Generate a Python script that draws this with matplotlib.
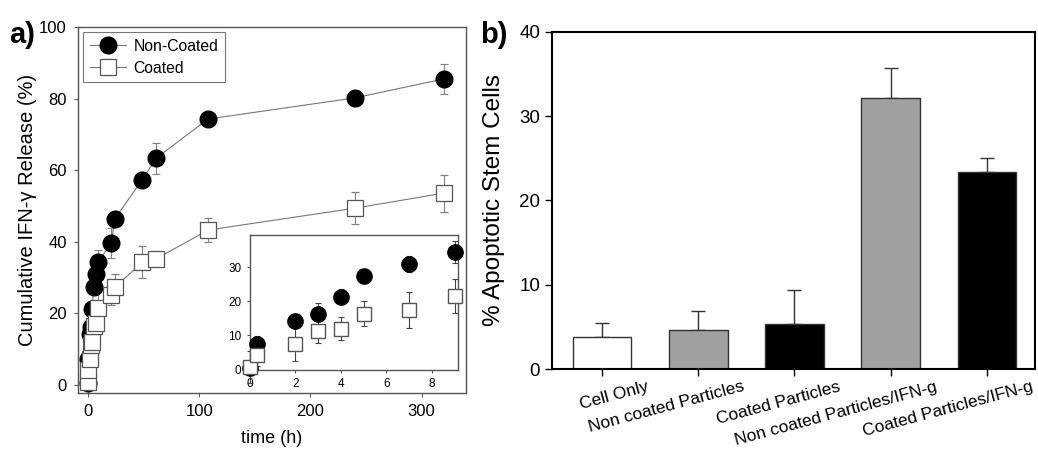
import matplotlib
matplotlib.use('Agg')
import matplotlib.pyplot as plt
from matplotlib.transforms import ScaledTranslation, blended_transform_factory

plt.rcParams['font.family'] = ['Liberation Sans', 'DejaVu Sans']

# パネルa: 放出データ (時間, %)
t_nc = [0, 0.3, 2, 3, 4, 5, 7, 9, 21, 24, 49, 61, 108, 240, 320]
y_nc = [0.5, 7.3, 14.2, 16.2, 21.3, 27.4, 31.0, 34.4, 39.6, 46.4, 57.4, 63.3, 74.3, 80.2, 85.5]
e_nc = [1.0, 2.4, 2.0, 3.4, 2.2, 0.6, 2.3, 3.2, 4.2, 1.8, 2.0, 4.3, 0.8, 2.2, 4.3]

t_c = [0, 0.3, 2, 3, 4, 5, 7, 9, 21, 24, 49, 61, 108, 240, 320]
y_c = [0.8, 4.1, 7.3, 11.2, 12.0, 16.4, 17.4, 21.5, 25.1, 27.3, 34.3, 35.2, 43.3, 49.4, 53.6]
e_c = [4.7, 3.0, 5.0, 3.4, 3.3, 3.6, 5.3, 5.0, 2.8, 3.8, 4.5, 1.5, 3.3, 4.5, 5.2]

# パネルb: アポトーシス細胞
groups = ['Cell Only', 'Non coated Particles', 'Coated Particles',
          'Non coated Particles/IFN-g', 'Coated Particles/IFN-g']
apop = [3.8, 4.6, 5.3, 32.2, 23.4]
apop_err = [1.7, 2.3, 4.1, 3.5, 1.7]
bar_colors = ['white', '#a0a0a0', 'black', '#a0a0a0', 'black']

fig = plt.figure(figsize=(10.38, 4.5), dpi=100)

# --- a) ---
ax = fig.add_axes([0.0751, 0.1267, 0.3739, 0.8133])
line_kw = dict(color='#777777', lw=0.8, ecolor='#808080', elinewidth=0.8, capsize=3, capthick=0.8)
ax.errorbar(t_nc, y_nc, yerr=e_nc, marker='o', ms=12, mfc='black', mec='black',
            label='Non-Coated', zorder=3, **line_kw)
ax.errorbar(t_c, y_c, yerr=e_c, marker='s', ms=11, mfc='white', mec='#555555', mew=0.9,
            label='Coated', zorder=3, **line_kw)
ax.set_xlim(-9, 340)
ax.set_ylim(-2.2, 100)
ax.set_xticks([0, 100, 200, 300])
ax.set_yticks([0, 20, 40, 60, 80, 100])
ax.tick_params(direction='out', length=3, width=0.8, color='#555555', labelsize=12, pad=5)
for s in ax.spines.values():
    s.set_color('#555555')
    s.set_linewidth(1.0)
ax.set_xlabel('time (h)', fontsize=13, labelpad=8)
ax.set_ylabel('Cumulative IFN-γ Release (%)', fontsize=14.5)
ax.yaxis.set_label_coords(-0.105, 0.5)
leg = ax.legend(loc='upper left', fontsize=11.3, frameon=True, fancybox=False,
                edgecolor='#555555', borderaxespad=0.35, handlelength=2.3,
                borderpad=0.4, labelspacing=0.45, handletextpad=0.5)
leg.get_frame().set_linewidth(0.8)

# インセット
axi = fig.add_axes([0.2408, 0.1778, 0.2004, 0.30])
ins_kw = dict(ls='none', ecolor='#444444', elinewidth=0.8, capsize=2.5, capthick=0.8, zorder=3)
c1 = axi.errorbar(t_nc[:8], y_nc[:8], yerr=e_nc[:8], marker='o', ms=11, mfc='black',
                  mec='black', **ins_kw)
c2 = axi.errorbar(t_c[:8], y_c[:8], yerr=e_c[:8], marker='s', ms=10, mfc='white',
                  mec='#555555', **ins_kw)
for cont in (c1, c2):
    for art in cont.get_children():
        art.set_clip_on(False)
axi.set_xlim(0, 9.15)
axi.set_ylim(-0.2, 39.5)
axi.set_xticks([0, 2, 4, 6, 8])
axi.set_yticks([0, 10, 20, 30])
axi.tick_params(direction='out', length=2.5, width=0.8, color='#555555', labelsize=8.5)
for s in axi.spines.values():
    s.set_color('#555555')
    s.set_linewidth(1.0)

fig.text(0.009, 0.905, 'a)', fontsize=21, fontweight='bold')

# --- b) ---
bx = fig.add_axes([0.5318, 0.18, 0.4653, 0.7489])
pos = list(range(len(groups)))
bx.bar(pos, apop, width=0.61, color=bar_colors, edgecolor='#333333', linewidth=1.0, zorder=2)
bx.errorbar(pos, apop, yerr=[[0] * len(apop), apop_err], fmt='none', ecolor='#333333',
            elinewidth=1.0, capsize=5, capthick=1.0, zorder=1)
bx.set_xlim(-0.52, 4.5)
bx.set_ylim(0, 40)
bx.set_yticks([0, 10, 20, 30, 40])
bx.set_xticks(pos)
bx.set_xticklabels([])
trans = blended_transform_factory(bx.transData, bx.transAxes)
for p, g in zip(pos, groups):
    bx.text(p, 0, g, rotation=15, ha='right', va='top', rotation_mode='anchor',
            fontsize=12.5, transform=trans + ScaledTranslation(0.44, -0.10, fig.dpi_scale_trans))
bx.tick_params(direction='out', length=5, width=1.0, labelsize=13.5)
for s in bx.spines.values():
    s.set_linewidth(1.5)
bx.set_ylabel('% Apoptotic Stem Cells', fontsize=17.5, labelpad=10)

fig.text(0.463, 0.905, 'b)', fontsize=21, fontweight='bold')

fig.savefig('out.png', dpi=100)
